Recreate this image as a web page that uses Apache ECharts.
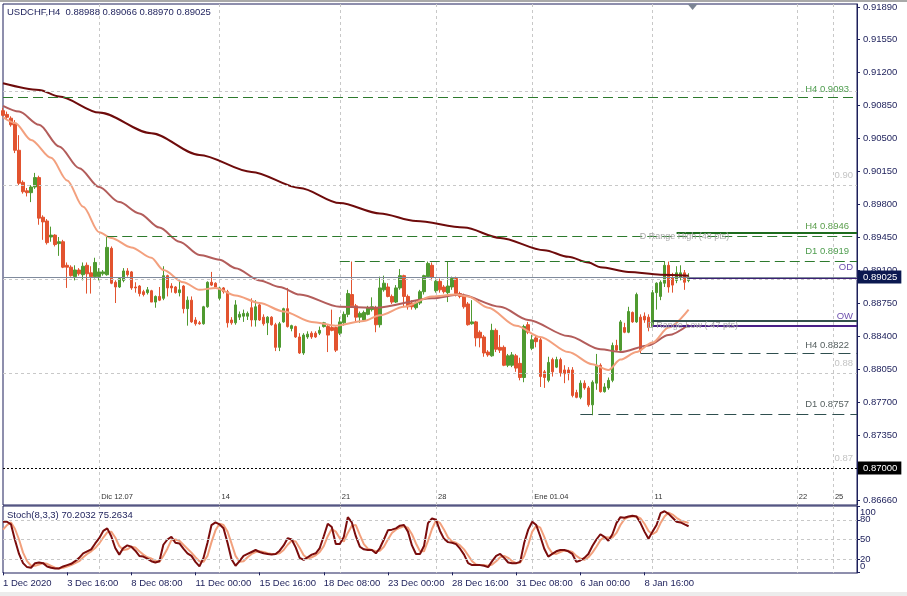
<!DOCTYPE html>
<html>
<head>
<meta charset="utf-8">
<title>USDCHF H4</title>
<script src="https://cdn.jsdelivr.net/npm/echarts@6/dist/echarts.min.js"></script>
<style>
html,body{margin:0;padding:0;background:#fff;overflow:hidden;}
#chart{width:907px;height:596px;}
</style>
</head>
<body>
<div id="chart"></div>
<script>
// ---------------- data ----------------
const symbolName = 'USDCHF,H4';
const tradingDays = ['1 Dec','2 Dec','3 Dec','4 Dec','7 Dec','8 Dec','9 Dec','10 Dec','11 Dec',
  '14 Dec','15 Dec','16 Dec','17 Dec','18 Dec','21 Dec','22 Dec','23 Dec','24 Dec',
  '28 Dec','29 Dec','30 Dec','31 Dec','4 Jan','5 Jan','6 Jan','7 Jan','8 Jan','11 Jan','12 Jan'];
const barHours = ['00:00','04:00','08:00','12:00','16:00','20:00'];
const lastDayBarCount = 4;
const futureSlotCount = 42;
const firstBarLabel = '1 Dec 2020';
const bottomLabelStep = 16;
const weekMarkIndex = [24, 54, 84, 108, 132, 162, 198, 207];
const weekMarkText = ['Dic 12.07', '14', '21', '28', 'Ene 01.04', '11', '22', '25'];

const opens = [
0.9079,0.9075,0.9071,0.9065,0.9037,0.9003,0.8994,0.8992,0.8998,0.9008,
0.8966,0.8962,0.8945,0.8947,0.8938,0.8940,0.8915,0.8913,0.8903,0.8910,
0.8905,0.8915,0.8907,0.8903,0.8903,0.8906,0.8905,0.8933,0.8897,0.8892,
0.8899,0.8909,0.8908,0.8892,0.8893,0.8887,0.8886,0.8888,0.8876,0.8882,
0.8880,0.8904,0.8893,0.8892,0.8886,0.8893,0.8869,0.8878,0.8857,0.8854,
0.8853,0.8871,0.8897,0.8896,0.8880,0.8891,0.8887,0.8857,0.8854,0.8860,
0.8861,0.8861,0.8870,0.8857,0.8873,0.8860,0.8854,0.8860,0.8852,0.8828,
0.8855,0.8869,0.8848,0.8850,0.8839,0.8822,0.8839,0.8843,0.8843,0.8843,
0.8850,0.8850,0.8849,0.8849,0.8843,0.8854,0.8863,0.8884,0.8872,0.8860,
0.8857,0.8863,0.8868,0.8870,0.8852,0.8889,0.8892,0.8882,0.8876,0.8891,
0.8904,0.8882,0.8875,0.8870,0.8875,0.8887,0.8903,0.8915,0.8888,0.8898,
0.8892,0.8886,0.8892,0.8901,0.8885,0.8883,0.8874,0.8853,0.8855,0.8844,
0.8839,0.8823,0.8819,0.8846,0.8828,0.8828,0.8809,0.8809,0.8819,0.8811,
0.8796,0.8852,0.8827,0.8838,0.8836,0.8802,0.8793,0.8815,0.8807,0.8815,
0.8804,0.8804,0.8804,0.8780,0.8775,0.8790,0.8785,0.8767,0.8790,0.8809,
0.8781,0.8785,0.8793,0.8830,0.8825,0.8849,0.8844,0.8865,0.8855,0.8860,
0.8861,0.8860,0.8850,0.8886,0.8882,0.8896,0.8915,0.8902,0.8899,0.8902,
0.8907,0.88988];
const closes = [
0.9074,0.9072,0.9064,0.9037,0.9002,0.8993,0.8992,0.8998,0.9008,0.8965,
0.8961,0.8939,0.8947,0.8937,0.8940,0.8913,0.8913,0.8904,0.8910,0.8906,
0.8914,0.8906,0.8903,0.8918,0.8908,0.8908,0.8934,0.8896,0.8892,0.8901,
0.8909,0.8905,0.8891,0.8891,0.8885,0.8884,0.8889,0.8876,0.8882,0.8878,
0.8904,0.8891,0.8891,0.8886,0.8889,0.8869,0.8878,0.8855,0.8853,0.8853,
0.8871,0.8897,0.8894,0.8892,0.8891,0.8887,0.8854,0.8854,0.8873,0.8863,
0.8864,0.8864,0.8857,0.8871,0.8857,0.8853,0.8860,0.8852,0.8828,0.8853,
0.8869,0.8850,0.8851,0.8839,0.8822,0.8841,0.8842,0.8839,0.8839,0.8846,
0.8854,0.8841,0.8846,0.8825,0.8855,0.8863,0.8885,0.8872,0.8860,0.8864,
0.8865,0.8870,0.8871,0.8852,0.8891,0.8896,0.8882,0.8876,0.8891,0.8904,
0.8882,0.8871,0.8871,0.8875,0.8887,0.8904,0.8917,0.8902,0.8898,0.8889,
0.8887,0.8893,0.8901,0.8885,0.8882,0.8871,0.8852,0.8855,0.8838,0.8838,
0.8822,0.8820,0.8846,0.8826,0.8825,0.8809,0.8819,0.8820,0.8806,0.8796,
0.8850,0.8844,0.8836,0.8834,0.8797,0.8796,0.8812,0.8802,0.8815,0.8801,
0.8800,0.8800,0.8777,0.8775,0.8790,0.8785,0.8767,0.8791,0.8809,0.8781,
0.8786,0.8793,0.8830,0.8825,0.8855,0.8844,0.8866,0.8855,0.8884,0.8825,
0.8857,0.8849,0.8886,0.8896,0.8897,0.8915,0.8892,0.8894,0.8907,0.8907,
0.8897,0.89025];
const lows = [
0.9073,0.9070,0.9062,0.9034,0.9000,0.8991,0.8988,0.8982,0.8996,0.8958,
0.8942,0.8937,0.8940,0.8935,0.8925,0.8912,0.8891,0.8903,0.8899,0.8904,
0.8899,0.8885,0.8885,0.8901,0.8899,0.8904,0.8904,0.8895,0.8875,0.8891,
0.8897,0.8903,0.8889,0.8886,0.8882,0.8882,0.8884,0.8876,0.8870,0.8877,
0.8878,0.8882,0.8886,0.8885,0.8882,0.8864,0.8851,0.8854,0.8851,0.8852,
0.8852,0.8870,0.8893,0.8891,0.8878,0.8885,0.8849,0.8852,0.8852,0.8857,
0.8855,0.8857,0.8850,0.8850,0.8856,0.8851,0.8841,0.8851,0.8824,0.8824,
0.8854,0.8849,0.8845,0.8838,0.8821,0.8820,0.8837,0.8837,0.8838,0.8841,
0.8849,0.8823,0.8845,0.8823,0.8841,0.8851,0.8860,0.8870,0.8854,0.8854,
0.8855,0.8862,0.8866,0.8844,0.8849,0.8887,0.8881,0.8874,0.8875,0.8889,
0.8871,0.8868,0.8868,0.8868,0.8873,0.8884,0.8902,0.8899,0.8886,0.8886,
0.8885,0.8876,0.8889,0.8882,0.8880,0.8869,0.8851,0.8852,0.8829,0.8828,
0.8818,0.8818,0.8818,0.8823,0.8822,0.8808,0.8807,0.8807,0.8802,0.8793,
0.8791,0.8842,0.8825,0.8828,0.8786,0.8785,0.8791,0.8797,0.8806,0.8797,
0.8790,0.8793,0.8775,0.8774,0.8773,0.8783,0.8765,0.8756,0.8783,0.8780,
0.8780,0.8783,0.8791,0.8823,0.8823,0.8843,0.8843,0.8854,0.8854,0.8822,
0.8854,0.8845,0.8849,0.8868,0.8878,0.8892,0.8886,0.8886,0.8896,0.8899,
0.8889,0.88970];
const highs = [
0.9082,0.9078,0.9073,0.9069,0.9053,0.9005,0.8997,0.9000,0.9013,0.9010,
0.8968,0.8964,0.8956,0.8948,0.8945,0.8942,0.8918,0.8915,0.8915,0.8912,
0.8918,0.8918,0.8914,0.8923,0.8912,0.8910,0.8947,0.8935,0.8899,0.8902,
0.8912,0.8912,0.8909,0.8897,0.8894,0.8889,0.8892,0.8889,0.8883,0.8892,
0.8914,0.8905,0.8896,0.8893,0.8899,0.8894,0.8882,0.8882,0.8860,0.8856,
0.8872,0.8898,0.8908,0.8897,0.8892,0.8892,0.8889,0.8860,0.8878,0.8866,
0.8868,0.8866,0.8880,0.8878,0.8875,0.8863,0.8861,0.8861,0.8854,0.8855,
0.8870,0.8891,0.8852,0.8851,0.8843,0.8843,0.8845,0.8845,0.8845,0.8850,
0.8855,0.8852,0.8868,0.8850,0.8860,0.8866,0.8889,0.8919,0.8874,0.8866,
0.8867,0.8872,0.8881,0.8872,0.8903,0.8904,0.8896,0.8884,0.8894,0.8911,
0.8905,0.8884,0.8878,0.8877,0.8889,0.8905,0.8919,0.8918,0.8901,0.8901,
0.8894,0.8919,0.8903,0.8903,0.8887,0.8885,0.8876,0.8878,0.8856,0.8846,
0.8841,0.8825,0.8853,0.8848,0.8841,0.8830,0.8821,0.8823,0.8821,0.8817,
0.8852,0.8855,0.8841,0.8841,0.8838,0.8804,0.8818,0.8817,0.8818,0.8817,
0.8809,0.8807,0.8807,0.8783,0.8793,0.8793,0.8787,0.8793,0.8821,0.8811,
0.8790,0.8796,0.8833,0.8836,0.8857,0.8854,0.8871,0.8866,0.8886,0.8863,
0.8865,0.8863,0.8889,0.8897,0.8899,0.8919,0.8919,0.8907,0.8914,0.8915,
0.8910,0.89066];

// moving averages, read at sample bars: [bar index, value]
const maSlow = [[0,0.9108],[9,0.9101],[14,0.9094],[24,0.9077],[37,0.9055],[49,0.9032],[62,0.9014],
  [74,0.8997],[84,0.8981],[94,0.8970],[103,0.8962],[115,0.8955],[124,0.8944],[135,0.8931],
  [141,0.8924],[146,0.8918],[149,0.8913],[156,0.8908],[164,0.8905],[171,0.8904]];
const maMid = [[0,0.9084],[4,0.9078],[9,0.9064],[14,0.9041],[19,0.9018],[24,0.8998],[29,0.8982],
  [34,0.8970],[39,0.8955],[44,0.8940],[49,0.8926],[54,0.8921],[58,0.8912],[64,0.8899],[69,0.8892],
  [74,0.8884],[84,0.8871],[93,0.8870],[107,0.8880],[114,0.8884],[124,0.8871],[131,0.8857],
  [141,0.8840],[149,0.8826],[154,0.8823],[161,0.8830],[166,0.8841],[171,0.8852]];
const maFast = [[0,0.9072],[3,0.9066],[7,0.9048],[12,0.9029],[16,0.9005],[20,0.8977],[24,0.8950],
  [27,0.8944],[32,0.8934],[37,0.8923],[40,0.8910],[45,0.8897],[49,0.8889],[53,0.8891],[58,0.8883],
  [64,0.8875],[70,0.8866],[77,0.8855],[83,0.8851],[90,0.8856],[94,0.8862],[100,0.8871],[107,0.8882],
  [113,0.8884],[116,0.8882],[121,0.8870],[128,0.8851],[134,0.8839],[141,0.8823],[147,0.8810],
  [151,0.8804],[154,0.8815],[158,0.8823],[162,0.8833],[166,0.8849],[171,0.8868]];

const stochK = [
77,77,73,49,28,14,8,7,14,15, 14,9,7,6,6,9,11,13,17,22,
29,32,35,44,52,63,67,55,37,27, 37,41,39,33,25,24,21,17,15,17,
42,50,54,45,44,36,29,25,16,9, 22,45,72,76,73,67,45,20,10,17,
25,28,31,34,31,29,28,27,28,33, 41,52,50,38,22,19,23,27,29,37,
55,74,69,43,43,54,84,76,55,39, 35,34,34,29,37,50,64,65,67,71,
72,62,41,28,28,40,75,82,80,63, 51,46,45,43,36,27,14,11,11,11,
10,8,17,25,28,22,15,14,14,16, 45,65,77,72,55,36,24,28,32,34,
34,32,28,16,18,22,28,40,50,58, 54,48,58,75,84,83,85,86,85,75,
62,51,62,72,90,93,89,83,77,76, 73,70.2032];
const stochD = [
65,72,76,66,50,30,17,10,10,12, 14,13,10,7,6,7,9,11,14,17,
23,28,32,37,44,53,61,62,53,40, 34,35,39,38,32,27,23,21,18,16,
25,36,49,50,48,42,36,30,23,17, 16,25,46,64,74,72,62,44,25,16,
17,23,28,31,32,31,29,28,28,29, 34,42,48,47,37,26,21,23,26,31,
40,55,66,62,52,47,60,71,72,57, 43,36,34,32,33,39,50,60,65,68,
70,68,58,44,32,32,48,66,79,75, 65,53,47,45,41,35,26,17,12,11,
11,10,12,17,23,25,22,17,14,15, 25,42,62,71,68,54,38,29,28,31,
33,33,31,25,21,19,23,30,39,49, 54,53,53,60,72,81,84,85,85,82,
74,63,58,62,75,85,91,88,83,79, 77,75.2634];

const priceTicks = [0.9189,0.9155,0.9120,0.9085,0.9050,0.9015,0.8980,0.8945,0.8910,0.8875,0.8840,0.8805,0.8770,0.8735,0.8700,0.8666];
const stochTicks = [100, 80, 50, 20, 0];
const stochLevels = [80, 50, 20];
const roundLevels = [0.91, 0.90, 0.89, 0.88];
const roundLevelText = ['', '0.90', '', '0.88'];
const lineLevel = 0.87;
const lineLevelText = '0.87';
const levelNames  = ['H4 0.9093', '', 'H4 0.8946', 'D1 0.8919', 'OD', 'OW', '', 'H4 0.8822', 'D1 0.8757'];
const levelValues = [0.9093, 0.8946, 0.8950, 0.8919, 0.8902, 0.8856, 0.8851, 0.8822, 0.8757];
const levelStart  = [0, 26, 168, 84, 171, 162, 162, 159, 144];
const rangeNotes = ['D Range High (48 pts)', 'D Range Low (-47 pts)'];
const rangeNoteValues = [0.8946, 0.8851];
const rangeNoteBar = [170, 172];
const stochName = 'Stoch(8,3,3)';

// ---------------- build ----------------
const FONT = '"Liberation Sans", Arial, sans-serif';
const NAVY = '#1c1f5a';
const categories = [];
tradingDays.forEach((d, k) => {
  const n = k === tradingDays.length - 1 ? lastDayBarCount : barHours.length;
  for (let j = 0; j < n; j++) categories.push(d + ' ' + barHours[j]);
});
for (let k = 1; k <= futureSlotCount; k++) categories.push('+' + k);
const lastIdx = categories.length - 1;
const nBars = opens.length;
const candles = opens.map((o, i) => [o, closes[i], lows[i], highs[i]]);
const weekMap = new Map(weekMarkIndex.map((v, k) => [v, weekMarkText[k]]));
const isWeek = (i) => weekMap.has(i);
const isBottomTick = (i) => i < nBars && i % bottomLabelStep === 0;
const lastBid = closes[nBars - 1];

const mainTitle = symbolName + '  ' + [opens[nBars-1], highs[nBars-1], lows[nBars-1], closes[nBars-1]].map(v => v.toFixed(5)).join(' ');
const stochTitle = stochName + ' ' + stochK[nBars-1].toFixed(4) + ' ' + stochD[nBars-1].toFixed(4);

const levelStyle = [
  {color:'#2d7a2d', type:[10,5], width:1, text:'#4f9d4f', dy:3, dx:8},
  {color:'#2d7a2d', type:[10,5], width:1},
  {color:'#1d6b1d', type:'solid', width:2, text:'#5b9e4c', dy:1, dx:8},
  {color:'#2d7a2d', type:[10,5], width:1, text:'#4f9d4f', dy:5, dx:8},
  {color:'#3b1f74', type:'solid', width:2, text:'#6d4fae', dy:5, dx:4},
  {color:'#34504c', type:'solid', width:2, text:'#6d4fae', dy:0, dx:4},
  {color:'#4a2188', type:'solid', width:2},
  {color:'#2f4f4f', type:[12,6], width:1, text:'#555f5f', dy:3, dx:8},
  {color:'#2f4f4f', type:[12,6], width:1, text:'#555f5f', dy:5, dx:8}
];

function hLine(v, from, lineStyle, label) {
  return [{coord:[from, v], lineStyle: lineStyle, label: label || {show:false}}, {coord:[lastIdx, v]}];
}

const gridLineData = roundLevels.map((v, k) => hLine(v, 0,
  {color:'#c8c8c8', type:[3,3], width:1},
  roundLevelText[k] ? {show:true, formatter: roundLevelText[k], position:'insideEndTop', distance:[4,5], color:'#c4c4c4', fontSize:9.5, fontFamily:FONT} : null));
gridLineData.push(hLine(lineLevel, 0, {color:'rgba(0,0,0,0)', width:1},
  {show:true, formatter: lineLevelText, position:'insideEndTop', distance:[4,5], color:'#c4c4c4', fontSize:9.5, fontFamily:FONT}));

const levelData = levelValues.map((v, k) => {
  const s = levelStyle[k];
  return hLine(v, levelStart[k], {color:s.color, type:s.type, width:s.width},
    levelNames[k] ? {show:true, formatter: levelNames[k], position:'insideEndTop', distance:[s.dx, s.dy], color:s.text, fontSize:9.5, fontFamily:FONT} : null);
});
levelData.push(hLine(lastBid, 0, {color:'#7f8a9c', type:'solid', width:1},
  {show:true, formatter: lastBid.toFixed(5), position:'end', distance:1, color:'#ffffff', backgroundColor:'#0b1850', padding:[2,4,1,5], fontSize:9.5, fontFamily:FONT}));
levelData.push(hLine(lineLevel, 0, {color:'#000000', type:[2,2], width:1},
  {show:true, formatter: lineLevel.toFixed(5), position:'end', distance:1, color:'#ffffff', backgroundColor:'#000000', padding:[2,4,1,5], fontSize:9.5, fontFamily:FONT}));

const noteData = rangeNotes.map((t, k) => ({
  coord:[rangeNoteBar[k], rangeNoteValues[k]], symbol:'rect', symbolSize:[1,1],
  itemStyle:{color:'rgba(0,0,0,0)'},
  label:{show:true, position:'inside', formatter:t, color:'#a9a9a9', fontSize:9, fontFamily:FONT}
}));
noteData.push({coord:[nBars, 0.91921], symbol:'triangle', symbolRotate:180, symbolSize:[10,6], symbolOffset:[0,3],
  itemStyle:{color:'#7b8494'}, label:{show:false}});

// stochastic scale labels drawn as line-end labels (MT4 nudges the 100 / 0 labels inward)
const stochScaleData = stochTicks.map(v => hLine(v, 0,
  stochLevels.includes(v) ? {color:'#c8c8c8', type:[3,3], width:1} : {color:'rgba(0,0,0,0)', width:1},
  {show:true, formatter: v === 100 ? '\n100' : (v === 0 ? '0\n' : String(v)),
   position:'end', distance:3, color:NAVY, fontSize:9.5, lineHeight:12, fontFamily:FONT}));

const chart = echarts.init(document.getElementById('chart'), null, {renderer:'canvas', width:907, height:596});
chart.setOption({
  animation: false,
  backgroundColor: '#ffffff',
  textStyle: {fontFamily: FONT},
  graphic: [
    {type:'rect', shape:{x:0, y:0, width:907, height:2}, style:{fill:'#a9a9a9'}, silent:true},
    {type:'rect', shape:{x:0, y:592, width:907, height:4}, style:{fill:'#ececec'}, silent:true}
  ],
  title: [
    {text: mainTitle, left: 7, top: 7, padding: 0, textStyle:{fontSize:9.5, fontWeight:'normal', color:NAVY, fontFamily:FONT}},
    {text: stochTitle, left: 7, top: 510, padding: 0, textStyle:{fontSize:9.5, fontWeight:'normal', color:NAVY, fontFamily:FONT}}
  ],
  grid: [
    {left:3, top:4, width:854, height:501, show:true, borderColor:NAVY, borderWidth:1, backgroundColor:'rgba(0,0,0,0)', outerBoundsMode:'none'},
    {left:3, top:506, width:854, height:67, show:true, borderColor:NAVY, borderWidth:1, backgroundColor:'rgba(0,0,0,0)', outerBoundsMode:'none'}
  ],
  xAxis: [
    {type:'category', gridIndex:0, data:categories, boundaryGap:false,
     axisLine:{show:false}, axisTick:{show:false},
     axisLabel:{show:true, inside:true, interval:(i) => isWeek(i), formatter:(v, i) => weekMap.get(i) || '',
       align:'left', margin:4, padding:[0,0,0,2], fontSize:7.5, color:'#333333', fontFamily:FONT},
     splitLine:{show:true, interval:(i) => isWeek(i), lineStyle:{color:'#c8c8c8', type:[3,3], width:1}}},
    {type:'category', gridIndex:1, data:categories, boundaryGap:false,
     axisLine:{show:false},
     axisTick:{show:true, interval:(i) => isBottomTick(i), length:3, lineStyle:{color:NAVY}},
     axisLabel:{show:true, interval:(i) => isBottomTick(i), formatter:(v, i) => i === 0 ? firstBarLabel : v,
       align:'left', margin:5, fontSize:9.5, color:NAVY, fontFamily:FONT},
     splitLine:{show:true, interval:(i) => isWeek(i), lineStyle:{color:'#c8c8c8', type:[3,3], width:1}}}
  ],
  yAxis: [
    {type:'value', gridIndex:0, position:'right', min:0.86608, max:0.91921, scale:true,
     axisLine:{show:true, lineStyle:{color:NAVY}},
     axisTick:{show:true, length:3, customValues:priceTicks, lineStyle:{color:NAVY}},
     axisLabel:{customValues:priceTicks, hideOverlap:false, formatter:(v) => v.toFixed(5), margin:6, fontSize:9.5, color:NAVY, fontFamily:FONT},
     splitLine:{show:false}},
    {type:'value', gridIndex:1, position:'right', min:-1, max:101,
     axisLine:{show:true, lineStyle:{color:NAVY}},
     axisTick:{show:true, length:3, customValues:stochTicks, lineStyle:{color:NAVY}},
     axisLabel:{show:false},
     splitLine:{show:false}}
  ],
  series: [
    {name:'grid', type:'line', xAxisIndex:0, yAxisIndex:0, data:[], z:1, silent:true, clip:false,
     markLine:{silent:true, symbol:['none','none'], animation:false, data:gridLineData}},
    {name:'USDCHF', type:'candlestick', xAxisIndex:0, yAxisIndex:0, data:candles, barWidth:3, z:2, silent:true,
     itemStyle:{color:'#4f9a30', color0:'#e2532f', borderColor:'#4f9a30', borderColor0:'#e2532f', borderWidth:1}},
    {name:'MA slow', type:'line', xAxisIndex:0, yAxisIndex:0, data:maSlow, symbol:'none', smooth:0.3, smoothMonotone:'x', z:3, silent:true,
     lineStyle:{color:'#6e0b0b', width:2}},
    {name:'MA mid', type:'line', xAxisIndex:0, yAxisIndex:0, data:maMid, symbol:'none', smooth:0.3, smoothMonotone:'x', z:3, silent:true,
     lineStyle:{color:'#b35d5b', width:2}},
    {name:'MA fast', type:'line', xAxisIndex:0, yAxisIndex:0, data:maFast, symbol:'none', smooth:0.3, smoothMonotone:'x', z:3, silent:true,
     lineStyle:{color:'#f3a07e', width:2}},
    {name:'levels', type:'line', xAxisIndex:0, yAxisIndex:0, data:[], z:4, silent:true, clip:false,
     markLine:{silent:true, symbol:['none','none'], animation:false, data:levelData},
     markPoint:{silent:true, animation:false, data:noteData}},
    {name:'stochGrid', type:'line', xAxisIndex:1, yAxisIndex:1, data:[], z:1, silent:true, clip:false,
     markLine:{silent:true, symbol:['none','none'], animation:false, data: stochScaleData}},
    {name:'%D', type:'line', xAxisIndex:1, yAxisIndex:1, data:stochD, symbol:'none', z:3, silent:true,
     lineStyle:{color:'#f2a07c', width:2}},
    {name:'%K', type:'line', xAxisIndex:1, yAxisIndex:1, data:stochK, symbol:'none', z:4, silent:true,
     lineStyle:{color:'#7a0c0c', width:2}}
  ]
});
</script>
</body>
</html>
